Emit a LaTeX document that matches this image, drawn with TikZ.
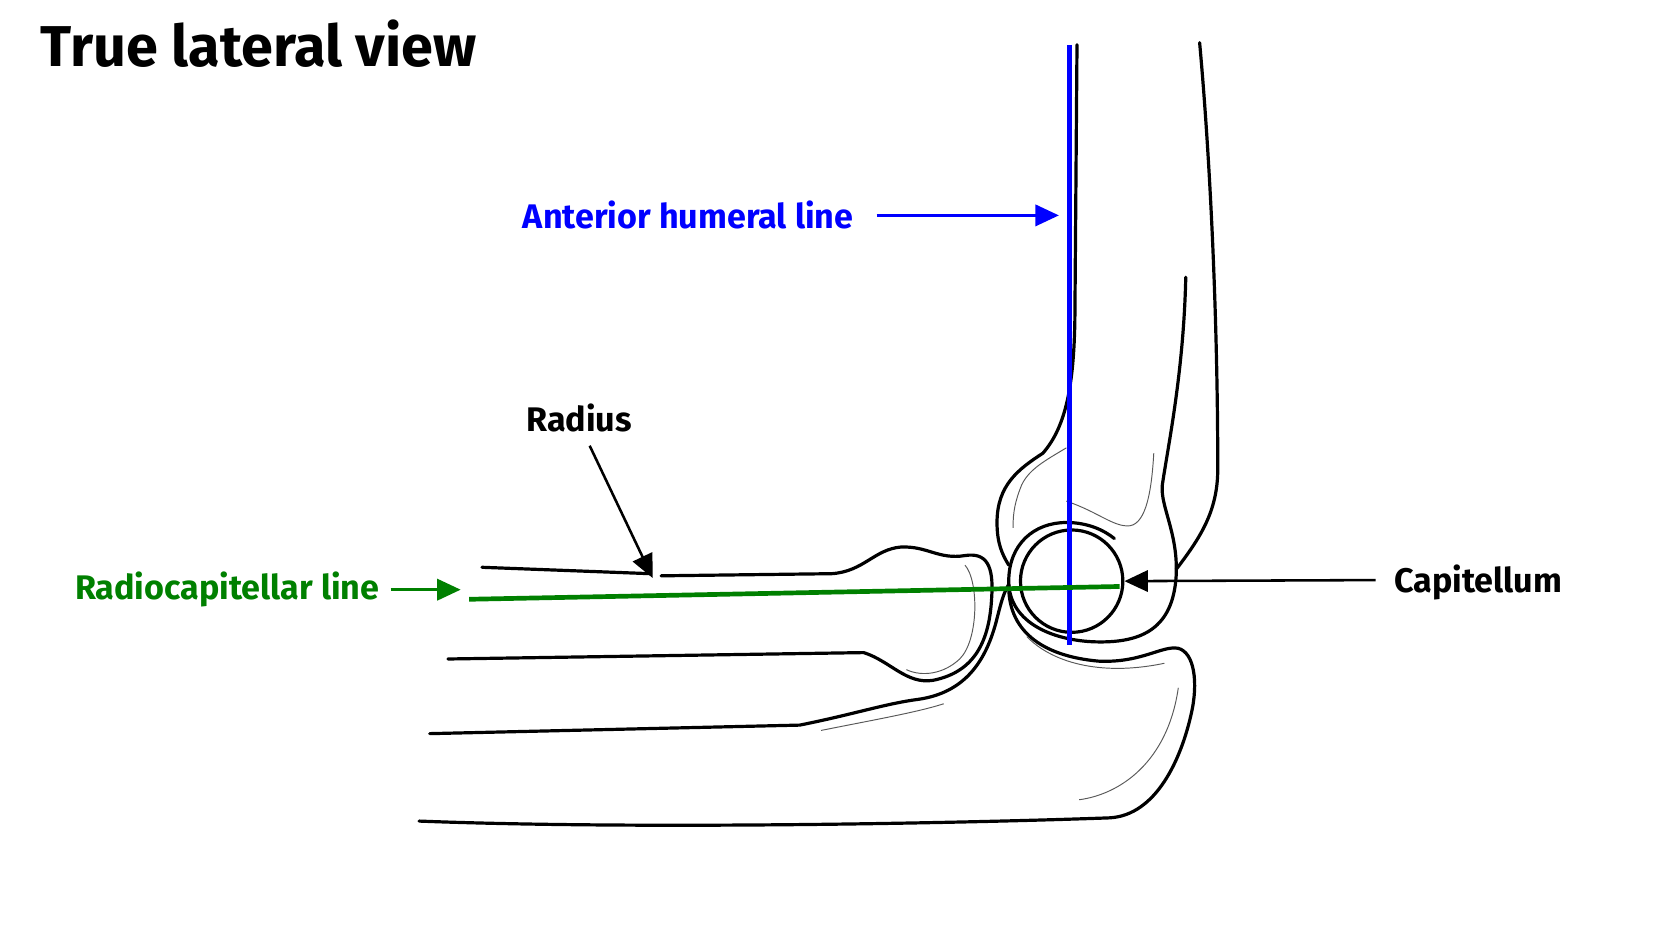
\documentclass[tikz,border=0pt]{standalone}
\usepackage{fontspec}
\setmainfont{Fira Sans}
\usetikzlibrary{arrows.meta}
\begin{document}
\begin{tikzpicture}[x=0.5pt,y=-0.5pt,
  bone/.style={line width=1.5pt,line cap=round,line join=round},
  thin/.style={line width=0.45pt,gray!70!black},
  lbl/.style={font=\fontsize{16}{18}\selectfont\bfseries,inner sep=0pt},
  arr/.style={line width=1.2pt,-{Triangle[length=11pt,width=10pt]}}]
\useasboundingbox (0,0) rectangle (1568,882);
\node[anchor=base west,inner sep=0pt,font=\fontsize{27}{30}\selectfont\bfseries] (title) at (38,62) {True lateral view};
% humerus
\draw[bone] (1010,42) -- (1008,300) .. controls (1007,360) and (1000,400) .. (978,425)
  .. controls (955,440) and (935,455) .. (935,490) .. controls (935,510) and (940,520) .. (946,530);
\draw[bone] (1125,40) .. controls (1135,150) and (1142,300) .. (1142,440)
  .. controls (1142,480) and (1125,505) .. (1103,534);
\draw[bone] (1112,260) .. controls (1110,350) and (1095,420) .. (1090,455)
  .. controls (1088,475) and (1105,500) .. (1103,540) .. controls (1100,590) and (1070,602) .. (1032,602)
  .. controls (990,602) and (946,585) .. (946,545) .. controls (946,510) and (970,490) .. (1000,490)
  .. controls (1020,490) and (1035,497) .. (1045,505);
\draw[thin] (1000,420) .. controls (980,432) and (965,440) .. (958,455) .. controls (952,470) and (950,480) .. (950,495);
\draw[thin] (1082,425) .. controls (1080,460) and (1075,490) .. (1060,493) .. controls (1045,495) and (1030,480) .. (1000,470);
\node[draw,circle,line width=1.5pt,minimum size=96pt*0.5,inner sep=0pt] (cap) at (1005,545) {};
% radius
\draw[bone] (452,532) -- (610,538);
\draw[bone] (620,540) -- (780,538) .. controls (810,536) and (820,515) .. (845,513)
  .. controls (870,512) and (880,525) .. (905,521) .. controls (925,518) and (932,530) .. (930,560)
  .. controls (928,600) and (915,630) .. (875,638) .. controls (850,642) and (835,620) .. (810,612)
  -- (420,618);
\draw[thin] (905,530) .. controls (918,545) and (918,600) .. (900,618) .. controls (885,632) and (865,635) .. (850,628);
% ulna
\draw[bone] (403,688) -- (750,680) .. controls (800,670) and (830,660) .. (860,656)
  .. controls (905,650) and (925,620) .. (935,580) .. controls (940,560) and (942,555) .. (946,548);
\draw[bone] (946,548) .. controls (945,590) and (975,615) .. (1030,620)
  .. controls (1070,622) and (1090,605) .. (1105,608) .. controls (1120,612) and (1124,640) .. (1117,670)
  .. controls (1108,710) and (1085,765) .. (1040,767) .. controls (900,772) and (600,778) .. (393,770);
\draw[thin] (770,685) .. controls (820,675) and (860,668) .. (885,660);
\draw[thin] (1012,750) .. controls (1050,745) and (1095,715) .. (1105,645);
\draw[thin] (963,597) .. controls (985,620) and (1030,635) .. (1092,622);
% lines
\coordinate (bt) at (1003,42); \coordinate (bb) at (1003,605);
\draw[blue,line width=2pt] (bt) -- (bb);
\coordinate (gl) at (440,562); \coordinate (gr) at (1050,550);
\draw[green!50!black,line width=2.2pt] (gl) -- (gr);
% labels
\node[lbl,blue,anchor=west] (ahl) at (490,202) {Anterior humeral line};
\coordinate (ahlt) at (993,202);
\draw[arr,blue] (822,202) -- (ahlt);
\node[lbl,green!50!black,anchor=west] (rcl) at (70,553) {Radiocapitellar line};
\coordinate (rclt) at (432,553);
\draw[arr,green!50!black] (rcl.east) ++(10,0) -- (rclt);
\node[lbl,anchor=center] (rad) at (543,392) {Radius};
\coordinate (radt) at (612,542);
\draw[arr] (553,418) -- (radt);
\node[lbl,anchor=west] (capl) at (1307,546) {Capitellum};
\draw[arr] (capl.west) ++(-17,-2) -- (cap.east);
\end{tikzpicture}
\end{document}
